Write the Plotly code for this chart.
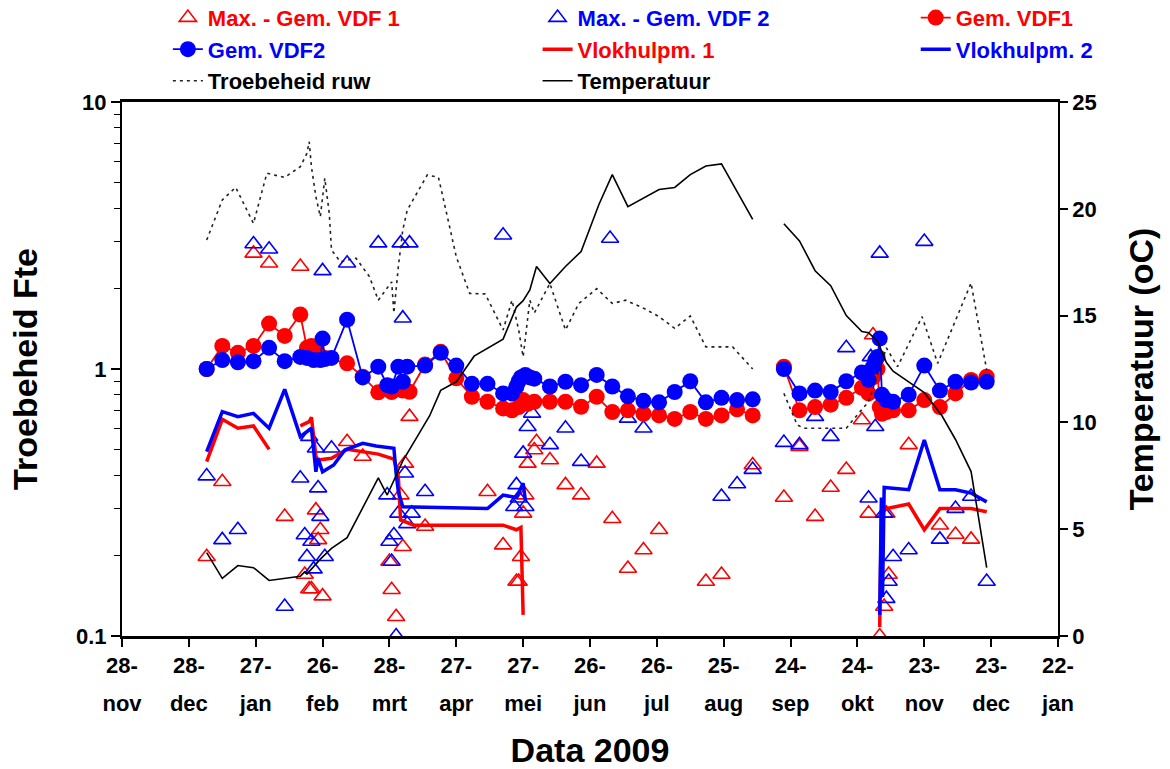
import plotly.graph_objects as go

RED = "#FF0000"
BLUE = "#0000FF"

# ---------------- data ----------------
tick_dates = ["2008-11-28", "2008-12-28", "2009-01-27", "2009-02-26", "2009-03-28",
              "2009-04-27", "2009-05-27", "2009-06-26", "2009-07-26", "2009-08-25",
              "2009-09-24", "2009-10-24", "2009-11-23", "2009-12-23", "2010-01-22"]
tick_days = ["28-", "28-", "27-", "26-", "28-", "27-", "27-", "26-", "26-", "25-",
             "24-", "24-", "23-", "23-", "22-"]
tick_months = ["nov", "dec", "jan", "feb", "mrt", "apr", "mei", "jun", "jul", "aug",
               "sep", "okt", "nov", "dec", "jan"]

max_vdf1 = [("2009-01-05", 0.198), ("2009-01-12", 0.378), ("2009-01-26", 2.71), ("2009-02-02", 2.49),
            ("2009-02-09", 0.28), ("2009-02-16", 2.42), ("2009-02-18", 0.17), ("2009-02-20", 0.15),
            ("2009-02-21", 0.15), ("2009-02-23", 0.296), ("2009-02-24", 0.229), ("2009-02-25", 0.25),
            ("2009-02-26", 0.141), ("2009-03-09", 0.534), ("2009-03-16", 0.47), ("2009-03-28", 0.19),
            ("2009-03-29", 0.149), ("2009-03-31", 0.118), ("2009-04-02", 0.337), ("2009-04-03", 0.216),
            ("2009-04-04", 0.443), ("2009-04-06", 0.663), ("2009-04-13", 0.257), ("2009-05-11", 0.347),
            ("2009-05-18", 0.219), ("2009-05-24", 0.16), ("2009-05-25", 0.16), ("2009-05-26", 0.198),
            ("2009-05-27", 0.288), ("2009-05-28", 0.337), ("2009-05-29", 0.443), ("2009-06-01", 0.497),
            ("2009-06-02", 0.534), ("2009-06-08", 0.456), ("2009-06-15", 0.368), ("2009-06-22", 0.337),
            ("2009-06-29", 0.443), ("2009-07-06", 0.275), ("2009-07-13", 0.179), ("2009-07-20", 0.21),
            ("2009-07-27", 0.25), ("2009-08-17", 0.16), ("2009-08-24", 0.17), ("2009-09-07", 0.437),
            ("2009-09-21", 0.33), ("2009-09-28", 0.512), ("2009-10-05", 0.28), ("2009-10-12", 0.36),
            ("2009-10-19", 0.42), ("2009-10-26", 0.644), ("2009-10-29", 0.288), ("2009-10-31", 1.34),
            ("2009-11-03", 0.1), ("2009-11-05", 0.129), ("2009-11-06", 0.288), ("2009-11-07", 0.17),
            ("2009-11-16", 0.52), ("2009-11-30", 0.26), ("2009-12-07", 0.24), ("2009-12-14", 0.23)]

max_vdf2 = [("2009-01-05", 0.397), ("2009-01-12", 0.229), ("2009-01-19", 0.25), ("2009-01-26", 2.94),
            ("2009-02-02", 2.81), ("2009-02-09", 0.129), ("2009-02-16", 0.39), ("2009-02-18", 0.239),
            ("2009-02-19", 0.198), ("2009-02-20", 0.558), ("2009-02-21", 0.226), ("2009-02-22", 0.178),
            ("2009-02-23", 0.505), ("2009-02-24", 0.358), ("2009-02-25", 0.28), ("2009-02-26", 2.33),
            ("2009-02-27", 0.198), ("2009-03-02", 0.505), ("2009-03-09", 2.49), ("2009-03-23", 2.96),
            ("2009-03-27", 0.337), ("2009-03-28", 0.226), ("2009-03-29", 0.19), ("2009-03-30", 0.239),
            ("2009-03-31", 0.1), ("2009-04-01", 0.288), ("2009-04-02", 2.96), ("2009-04-03", 1.55),
            ("2009-04-04", 0.407), ("2009-04-05", 0.263), ("2009-04-06", 2.96), ("2009-04-07", 0.288),
            ("2009-04-13", 0.347), ("2009-05-18", 3.17), ("2009-05-23", 0.305), ("2009-05-24", 0.368),
            ("2009-05-25", 0.328), ("2009-05-27", 0.483), ("2009-05-28", 0.305), ("2009-05-29", 0.608),
            ("2009-05-31", 0.682), ("2009-06-08", 0.52), ("2009-06-15", 0.60), ("2009-06-22", 0.45),
            ("2009-07-05", 3.08), ("2009-07-13", 0.653), ("2009-07-20", 0.60), ("2009-08-24", 0.333),
            ("2009-08-31", 0.371), ("2009-09-07", 0.42), ("2009-09-21", 0.53), ("2009-09-28", 0.52),
            ("2009-10-05", 0.663), ("2009-10-12", 0.558), ("2009-10-19", 1.2), ("2009-10-29", 0.328),
            ("2009-10-30", 1.11), ("2009-11-01", 0.608), ("2009-11-03", 2.71), ("2009-11-05", 0.288),
            ("2009-11-06", 0.138), ("2009-11-07", 0.16), ("2009-11-09", 0.198), ("2009-11-16", 0.21),
            ("2009-11-23", 3.0), ("2009-11-30", 0.23), ("2009-12-07", 0.30), ("2009-12-14", 0.333),
            ("2009-12-21", 0.16)]

gem_vdf1 = [("2009-01-05", 1.0), ("2009-01-12", 1.22), ("2009-01-19", 1.15), ("2009-01-26", 1.22),
            ("2009-02-02", 1.48), ("2009-02-09", 1.33), ("2009-02-16", 1.60), ("2009-02-19", 1.20),
            ("2009-02-21", 1.22), ("2009-02-23", 1.18), ("2009-02-25", 1.12), ("2009-02-27", 1.10),
            ("2009-03-09", 1.05), ("2009-03-16", 0.936), ("2009-03-23", 0.818), ("2009-03-27", 0.84),
            ("2009-03-29", 0.82), ("2009-04-01", 0.86), ("2009-04-03", 0.83), ("2009-04-06", 0.822),
            ("2009-04-13", 1.04), ("2009-04-20", 1.16), ("2009-04-27", 0.923), ("2009-05-04", 0.787),
            ("2009-05-11", 0.754), ("2009-05-18", 0.712), ("2009-05-22", 0.70), ("2009-05-25", 0.72),
            ("2009-05-27", 0.765), ("2009-05-29", 0.74), ("2009-06-01", 0.754), ("2009-06-08", 0.754),
            ("2009-06-15", 0.754), ("2009-06-22", 0.722), ("2009-06-29", 0.787), ("2009-07-06", 0.69),
            ("2009-07-13", 0.70), ("2009-07-20", 0.68), ("2009-07-27", 0.67), ("2009-08-03", 0.65),
            ("2009-08-10", 0.69), ("2009-08-17", 0.65), ("2009-08-24", 0.67), ("2009-08-31", 0.706),
            ("2009-09-07", 0.67), ("2009-09-14", None), ("2009-09-21", 1.02), ("2009-09-28", 0.70),
            ("2009-10-05", 0.72), ("2009-10-12", 0.735), ("2009-10-19", 0.78), ("2009-10-26", 0.85),
            ("2009-10-29", 0.81), ("2009-10-31", 0.93), ("2009-11-02", 1.0), ("2009-11-03", 0.72),
            ("2009-11-04", 0.68), ("2009-11-06", 0.69), ("2009-11-09", 0.70), ("2009-11-16", 0.70),
            ("2009-11-23", 0.765), ("2009-11-30", 0.72), ("2009-12-07", 0.81), ("2009-12-14", 0.91),
            ("2009-12-21", 0.936)]

gem_vdf2 = [("2009-01-05", 1.0), ("2009-01-12", 1.08), ("2009-01-19", 1.06), ("2009-01-26", 1.07),
            ("2009-02-02", 1.20), ("2009-02-09", 1.07), ("2009-02-16", 1.11), ("2009-02-19", 1.10),
            ("2009-02-22", 1.08), ("2009-02-25", 1.08), ("2009-02-26", 1.30), ("2009-02-27", 1.09),
            ("2009-03-02", 1.10), ("2009-03-09", 1.53), ("2009-03-16", 0.93), ("2009-03-23", 1.02),
            ("2009-03-27", 0.87), ("2009-03-29", 0.86), ("2009-04-01", 1.02), ("2009-04-03", 0.896),
            ("2009-04-05", 1.02), ("2009-04-13", 1.03), ("2009-04-20", 1.15), ("2009-04-27", 1.03),
            ("2009-05-04", 0.88), ("2009-05-11", 0.88), ("2009-05-18", 0.81), ("2009-05-22", 0.81),
            ("2009-05-24", 0.86), ("2009-05-25", 0.90), ("2009-05-26", 0.93), ("2009-05-28", 0.95),
            ("2009-05-30", 0.93), ("2009-06-01", 0.92), ("2009-06-08", 0.86), ("2009-06-15", 0.896),
            ("2009-06-22", 0.87), ("2009-06-29", 0.95), ("2009-07-06", 0.86), ("2009-07-13", 0.79),
            ("2009-07-20", 0.76), ("2009-07-27", 0.75), ("2009-08-03", 0.82), ("2009-08-10", 0.90),
            ("2009-08-17", 0.75), ("2009-08-24", 0.78), ("2009-08-31", 0.765), ("2009-09-07", 0.77),
            ("2009-09-14", None), ("2009-09-21", 1.0), ("2009-09-28", 0.81), ("2009-10-05", 0.83),
            ("2009-10-12", 0.82), ("2009-10-19", 0.90), ("2009-10-26", 0.97), ("2009-10-29", 0.91),
            ("2009-10-31", 1.02), ("2009-11-01", 1.08), ("2009-11-02", 1.11), ("2009-11-03", 1.30),
            ("2009-11-04", 0.80), ("2009-11-06", 0.765), ("2009-11-09", 0.754), ("2009-11-16", 0.80),
            ("2009-11-23", 1.03), ("2009-11-30", 0.83), ("2009-12-07", 0.896), ("2009-12-14", 0.89),
            ("2009-12-21", 0.896)]

vlok1 = [("2009-01-05", 0.45), ("2009-01-12", 0.648), ("2009-01-19", 0.60), ("2009-01-26", 0.612),
         ("2009-02-02", 0.50), ("2009-02-09", None), ("2009-02-16", 0.612), ("2009-02-20", 0.635),
         ("2009-02-21", 0.66), ("2009-02-23", 0.47), ("2009-02-24", 0.456), ("2009-03-02", 0.463),
         ("2009-03-09", 0.50), ("2009-03-23", 0.48), ("2009-03-30", 0.46), ("2009-04-01", 0.395),
         ("2009-04-02", 0.272), ("2009-04-08", 0.26), ("2009-05-18", 0.26), ("2009-05-24", 0.25),
         ("2009-05-26", 0.255), ("2009-05-27", 0.12), ("2009-06-15", None), ("2009-11-03 00:00", 0.108),
         ("2009-11-03 18:00", 0.288), ("2009-11-06", 0.30), ("2009-11-16", 0.312), ("2009-11-23", 0.25),
         ("2009-11-30", 0.30), ("2009-12-07", 0.30), ("2009-12-14", 0.30), ("2009-12-21", 0.292)]

vlok2 = [("2009-01-05", 0.49), ("2009-01-12", 0.692), ("2009-01-19", 0.663), ("2009-01-26", 0.682),
         ("2009-02-02", 0.60), ("2009-02-09", 0.839), ("2009-02-16", 0.558), ("2009-02-21", 0.60),
         ("2009-02-23", 0.412), ("2009-02-24", 0.463), ("2009-02-26", 0.412), ("2009-03-03", 0.437),
         ("2009-03-08", 0.497), ("2009-03-16", 0.527), ("2009-03-22", 0.515), ("2009-03-30", 0.505),
         ("2009-03-31", 0.407), ("2009-04-01", 0.347), ("2009-04-03", 0.305), ("2009-05-11", 0.30),
         ("2009-05-18", 0.337), ("2009-05-24", 0.33), ("2009-05-27", 0.373), ("2009-05-28", 0.323),
         ("2009-06-15", None), ("2009-11-03 00:00", 0.12), ("2009-11-03 18:00", 0.33),
         ("2009-11-04 06:00", 0.14), ("2009-11-05", 0.36), ("2009-11-16", 0.353), ("2009-11-23", 0.542),
         ("2009-11-30", 0.353), ("2009-12-07", 0.353), ("2009-12-14", 0.343), ("2009-12-21", 0.318)]

troebeheid = [("2009-01-05", 3.04), ("2009-01-12", 4.30), ("2009-01-18", 4.79), ("2009-01-26", 3.51),
              ("2009-02-01", 5.41), ("2009-02-09", 5.22), ("2009-02-16", 5.72), ("2009-02-19", 6.43),
              ("2009-02-20", 7.1), ("2009-02-21", 5.72), ("2009-02-23", 4.42), ("2009-02-25", 3.72),
              ("2009-02-27", 5.18), ("2009-03-01", 3.83), ("2009-03-02", 2.79), ("2009-03-06", 2.52),
              ("2009-03-13", 2.6), ("2009-03-19", 2.22), ("2009-03-23", 1.81), ("2009-03-29", 2.12),
              ("2009-03-30", 1.62), ("2009-04-01", 2.42), ("2009-04-03", 3.32), ("2009-04-05", 3.94),
              ("2009-04-14", 5.33), ("2009-04-19", 5.22), ("2009-04-23", 3.72), ("2009-04-27", 2.63),
              ("2009-05-03", 1.92), ("2009-05-10", 1.91), ("2009-05-18", 1.40), ("2009-05-22", 1.81),
              ("2009-05-25", 1.40), ("2009-05-27", 1.11), ("2009-05-30", 1.81), ("2009-06-01", 1.62),
              ("2009-06-08", 2.09), ("2009-06-15", 1.40), ("2009-06-21", 1.76), ("2009-06-29", 2.0),
              ("2009-07-06", 1.76), ("2009-07-12", 1.81), ("2009-07-20", 1.69), ("2009-07-27", 1.57),
              ("2009-08-03", 1.42), ("2009-08-10", 1.58), ("2009-08-17", 1.21), ("2009-08-29", 1.21),
              ("2009-09-07", 1.0), ("2009-09-14", None), ("2009-09-21", 0.81), ("2009-09-27", 0.617),
              ("2009-09-30", 0.60), ("2009-10-19", 0.60), ("2009-10-22", 0.644), ("2009-10-29", 0.754),
              ("2009-11-06", 1.2), ("2009-11-11", 1.02), ("2009-11-22", 1.57), ("2009-11-29", 1.05),
              ("2009-12-14", 2.1), ("2009-12-21", 0.99)]

temperatuur = [("2009-01-05", 3.9), ("2009-01-12", 2.7), ("2009-01-19", 3.3), ("2009-01-26", 3.2),
               ("2009-02-02", 2.6), ("2009-02-16", 2.8), ("2009-02-18", 3.0), ("2009-02-19", 2.9),
               ("2009-02-25", 3.6), ("2009-03-02", 4.1), ("2009-03-09", 4.6), ("2009-03-23", 7.4),
               ("2009-03-27", 6.6), ("2009-04-03", 8.2), ("2009-04-15", 10.3), ("2009-04-20", 11.5),
               ("2009-04-27", 11.9), ("2009-05-05", 13.1), ("2009-05-18", 13.9), ("2009-05-24", 15.4),
               ("2009-05-27", 15.7), ("2009-05-30", 16.2), ("2009-06-02", 17.3), ("2009-06-08", 16.5),
               ("2009-06-15", 17.3), ("2009-06-22", 18.0), ("2009-06-30", 20.2), ("2009-07-06", 21.6),
               ("2009-07-13", 20.1), ("2009-07-20", 20.5), ("2009-07-27", 20.9), ("2009-08-03", 21.0),
               ("2009-08-10", 21.6), ("2009-08-17", 22.0), ("2009-08-24", 22.1), ("2009-09-07", 19.5),
               ("2009-09-14", None), ("2009-09-21", 19.3), ("2009-09-28", 18.5), ("2009-10-05", 17.1),
               ("2009-10-12", 16.4), ("2009-10-19", 15.0), ("2009-10-26", 14.25), ("2009-10-29", 14.2),
               ("2009-11-02", 13.8), ("2009-11-06", 12.8), ("2009-11-09", 12.4), ("2009-11-16", 11.9),
               ("2009-11-23", 11.4), ("2009-12-01", 10.3), ("2009-12-07", 9.2), ("2009-12-14", 7.7),
               ("2009-12-21", 3.2)]

minor_vals = [0.2, 0.3, 0.4, 0.5, 0.6, 0.7, 0.8, 0.9, 2, 3, 4, 5, 6, 7, 8, 9]


def xs(series):
    return [d for d, _ in series]


def ys(series):
    return [v for _, v in series]


def lab(text, color):
    return "<span style='color:%s'>%s</span>" % (color, text)


fig = go.Figure()

fig.add_trace(go.Scatter(x=xs(max_vdf1), y=ys(max_vdf1), mode="markers",
                         name=lab("Max. - Gem. VDF 1", RED), legend="legend",
                         marker=dict(symbol="triangle-up-open", size=15, color=RED, line=dict(width=1.6, color=RED))))
fig.add_trace(go.Scatter(x=xs(max_vdf2), y=ys(max_vdf2), mode="markers",
                         name=lab("Max. - Gem. VDF 2", BLUE), legend="legend2",
                         marker=dict(symbol="triangle-up-open", size=15, color=BLUE, line=dict(width=1.6, color=BLUE))))
fig.add_trace(go.Scatter(x=xs(gem_vdf1), y=ys(gem_vdf1), mode="lines+markers",
                         name=lab("Gem. VDF1", RED), legend="legend3",
                         line=dict(color=RED, width=1.8),
                         marker=dict(symbol="circle", size=16, color=RED)))
fig.add_trace(go.Scatter(x=xs(gem_vdf2), y=ys(gem_vdf2), mode="lines+markers",
                         name=lab("Gem. VDF2", BLUE), legend="legend",
                         line=dict(color=BLUE, width=1.8),
                         marker=dict(symbol="circle", size=16, color=BLUE)))
fig.add_trace(go.Scatter(x=xs(vlok1), y=ys(vlok1), mode="lines",
                         name=lab("Vlokhulpm. 1", RED), legend="legend2",
                         line=dict(color=RED, width=3.5)))
fig.add_trace(go.Scatter(x=xs(vlok2), y=ys(vlok2), mode="lines",
                         name=lab("Vlokhulpm. 2", BLUE), legend="legend3",
                         line=dict(color=BLUE, width=3.5)))
fig.add_trace(go.Scatter(x=xs(troebeheid), y=ys(troebeheid), mode="lines",
                         name="Troebeheid ruw", legend="legend",
                         line=dict(color="#222222", width=1.6, dash="3px,4px")))
fig.add_trace(go.Scatter(x=xs(temperatuur), y=ys(temperatuur), mode="lines",
                         name="Temperatuur", legend="legend2", xaxis="x2", yaxis="y2",
                         line=dict(color="black", width=1.6)))

leg_common = dict(yanchor="top", xanchor="left", orientation="v", bgcolor="rgba(0,0,0,0)",
                  font=dict(size=22), tracegroupgap=0, y=1.197)

x_range = ["2008-11-28", "2010-01-22"]

fig.update_layout(
    width=1170, height=769,
    margin=dict(l=122, r=112, t=102, b=133, autoexpand=False),
    paper_bgcolor="white", plot_bgcolor="white",
    font=dict(family="Liberation Sans, Arial, sans-serif", size=22, color="black", weight="bold"),
    showlegend=True,
    legend=dict(x=0.049, **leg_common),
    legend2=dict(x=0.444, **leg_common),
    legend3=dict(x=0.848, **leg_common),
    xaxis=dict(type="date", range=x_range,
               tickmode="array", tickvals=tick_dates, ticktext=tick_days,
               ticks="outside", ticklen=8, tickwidth=1.5, tickcolor="black",
               showline=True, linewidth=2.5, linecolor="black", mirror=True,
               showgrid=False, zeroline=False, automargin=False),
    xaxis2=dict(type="date", range=x_range, overlaying="x", anchor="y", side="bottom",
                tickmode="array", tickvals=tick_dates, ticktext=tick_months,
                ticks="", ticklabelstandoff=52, showline=False,
                showgrid=False, zeroline=False, automargin=False,
                title=dict(text="Data 2009", font=dict(size=34), standoff=25)),
    yaxis=dict(type="log", range=[-1, 1], tickmode="array",
               tickvals=[0.1, 1, 10], ticktext=["0.1", "1", "10"],
               ticks="outside", ticklen=9, tickwidth=1.5, tickcolor="black",
               minor=dict(tickmode="array", tickvals=minor_vals, ticks="outside", ticklen=6,
                          tickwidth=1, tickcolor="black", showgrid=False),
               showline=True, linewidth=2, linecolor="black",
               showgrid=False, zeroline=False, automargin=False,
               title=dict(text="Troebeheid Fte", font=dict(size=34), standoff=28)),
    yaxis2=dict(overlaying="y", side="right", anchor="x", range=[0, 25],
                tickmode="array", tickvals=[0, 5, 10, 15, 20, 25],
                ticks="outside", ticklen=8, tickwidth=1.5, tickcolor="black",
                showline=True, linewidth=1.5, linecolor="black",
                showgrid=False, zeroline=False, automargin=False,
                title=dict(text="Temperatuur (oC)", font=dict(size=34), standoff=34)),
)

fig.write_html("out.html")
